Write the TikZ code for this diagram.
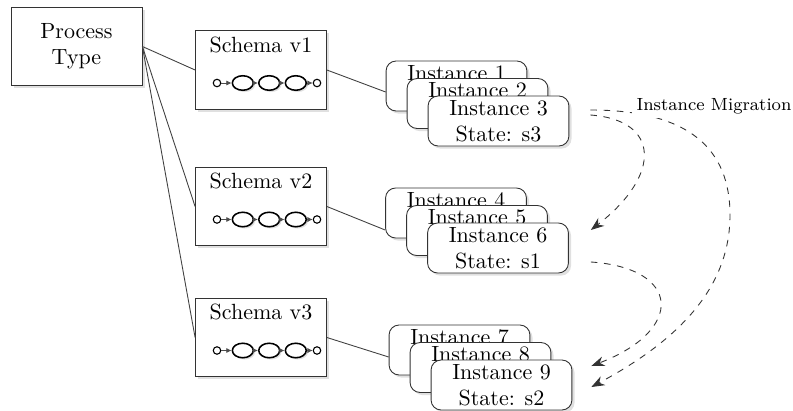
\documentclass[tikz,border=0pt]{standalone}
\usetikzlibrary{arrows.meta,shadows,shapes.geometric}

\tikzset{
  boxshadow/.style={drop shadow={shadow xshift=1.2pt, shadow yshift=-1.2pt, fill=black!20, opacity=0.6}},
  box/.style={draw=black!80, fill=white, minimum width=59.5pt, minimum height=35.7pt, align=center, boxshadow},
  inst/.style={draw=black!80, fill=white, rounded corners=4.5pt, align=center,
    minimum width=64pt, minimum height=22.7pt, inner sep=1pt, boxshadow},
  task/.style={draw=black, line width=0.7pt, ellipse, fill=white, minimum width=9.5pt,
    minimum height=6.6pt, inner sep=0pt,
    drop shadow={shadow xshift=0.8pt, shadow yshift=-0.8pt, fill=black!20, opacity=0.6}},
  endpt/.style={draw=black, line width=0.5pt, circle, fill=white, minimum size=3.4pt, inner sep=0pt},
  flow/.style={draw=black!70, -{Latex[length=2.4pt,width=2.4pt]}},
  link/.style={draw=black!75, line width=0.4pt},
  migr/.style={draw=black!80, dashed, -{Stealth[length=6pt,width=4.5pt]}}
}

\begin{document}
\begin{tikzpicture}[x=0.4545pt,y=-0.4545pt]

\useasboundingbox (0,0) rectangle (793,411);

\node[box] (ptype) at (76.5,46.5) {Process\\Type};

% Schemas with their little process chain:
\foreach \i/\y in {1/70,2/206.5,3/337.5}{
  \node[box] (schema\i) at (261,\y) {};
  \draw[link] (ptype.east) -- (schema\i.west);
  \node (title\i) at ([shift={(0,-25.5)}]schema\i.center) {Schema v\i};
  \node[endpt] (start\i) at ([shift={(-44,13)}]schema\i.center) {};
  \node[task] (taska\i) at ([shift={(-18.2,13)}]schema\i.center) {};
  \node[task] (taskb\i) at ([shift={(8.2,13)}]schema\i.center) {};
  \node[task] (taskc\i) at ([shift={(34.8,13)}]schema\i.center) {};
  \node[endpt] (end\i) at ([shift={(56,13)}]schema\i.center) {};
  \draw[flow] (start\i) -- (taska\i);
  \draw[flow] (taska\i) -- (taskb\i);
  \draw[flow] (taskb\i) -- (taskc\i);
  \draw[flow] (taskc\i) -- (end\i);
}

% Instances of schema v1:
\node[inst] (inst1) at (456.5,86) {Instance 1\\\phantom{State: s3}};
\node[inst] (inst2) at ([shift={(21,17.5)}]inst1) {Instance 2\\\phantom{State: s3}};
\node[inst] (inst3) at ([shift={(21,17.5)}]inst2) {Instance 3\\State: s3};
% Instances of schema v2:
\node[inst] (inst4) at (456,213) {Instance 4\\\phantom{State: s1}};
\node[inst] (inst5) at ([shift={(21,17.5)}]inst4) {Instance 5\\\phantom{State: s1}};
\node[inst] (inst6) at ([shift={(21,17.5)}]inst5) {Instance 6\\State: s1};
% Instances of schema v3:
\node[inst] (inst7) at (459.5,350) {Instance 7\\\phantom{State: s2}};
\node[inst] (inst8) at ([shift={(21,17.5)}]inst7) {Instance 8\\\phantom{State: s2}};
\node[inst] (inst9) at ([shift={(21,17.5)}]inst8) {Instance 9\\State: s2};

\draw[link] (schema1.east) -- ([shift={(0,6)}]inst1.west);
\draw[link] (schema2.east) -- ([shift={(0,17)}]inst4.west);
\draw[link] (schema3.east) -- ([shift={(0,7)}]inst7.west);

% Migration arrows:
\draw[migr] ([shift={(21,-6)}]inst3.east) .. controls +(70,5) and +(71,-55) .. ([shift={(22,-18)}]inst6.east);
\draw[migr] ([shift={(22,14)}]inst6.east) .. controls +(90,6) and +(94,-36) .. ([shift={(19,-19)}]inst9.east);
\draw[migr] ([shift={(21,-11)}]inst3.east) .. controls +(100,0) and +(0,-65) .. (730,215)
  .. controls +(0,75) and +(84,-45) .. ([shift={(19,2)}]inst9.east);
\node[fill=white, inner sep=2pt, font=\footnotesize] (migrlabel) at (714,106) {Instance Migration};

\end{tikzpicture}
\end{document}
